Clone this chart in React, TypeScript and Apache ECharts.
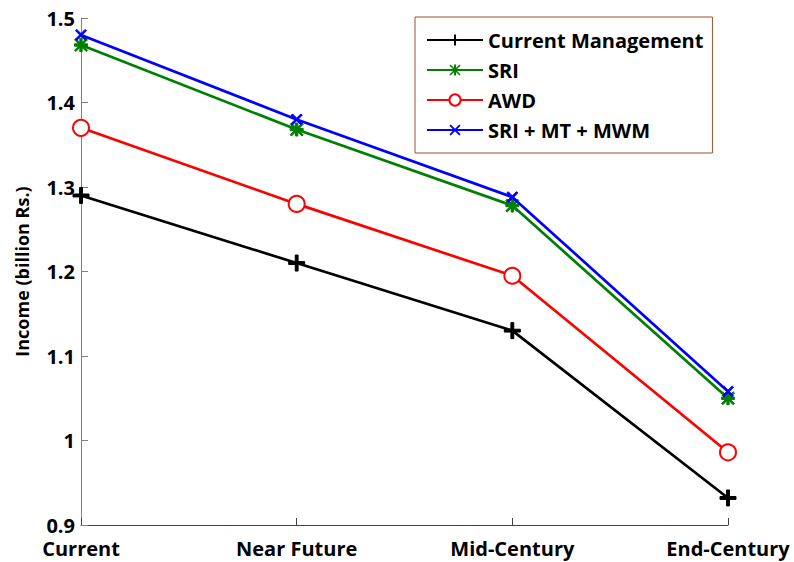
import React, { useEffect, useRef } from "react";
import * as echarts from "echarts";

const categories = ["Current", "Near Future", "Mid-Century", "End-Century"];
const currentManagement = [1.29, 1.21, 1.13, 0.932];
const sri = [1.468, 1.368, 1.278, 1.05];
const awd = [1.37, 1.28, 1.195, 0.986];
const sriMtMwm = [1.48, 1.38, 1.288, 1.058];
const yTicks = { min: 0.9, max: 1.5, interval: 0.1 };

const PLUS = "path://M4.1,0H5.9V4.1H10V5.9H5.9V10H4.1V5.9H0V4.1H4.1Z";
const STAR =
  "path://M0,4.1H10V5.9H0Z M4.1,0H5.9V10H4.1Z M1,0L10,9L9,10L0,1Z M9,0L10,1L1,10L0,9Z";
const CROSS = "path://M1.2,0L10,8.8L8.8,10L0,1.2Z M8.8,0L10,1.2L1.2,10L0,8.8Z";

const FONT = "Open Sans";

export default function App() {
  const ref = useRef<HTMLDivElement>(null);
  useEffect(() => {
    if (!ref.current) return;
    const chart = echarts.init(ref.current, null, { renderer: "svg" });
    const mk = (name: string, data: number[], color: string, symbol: string, size: number, extra: any = {}) => ({
      name,
      type: "line",
      data,
      symbol,
      symbolSize: size,
      showSymbol: true,
      lineStyle: { color, width: 2.7 },
      itemStyle: { color, borderColor: color, ...extra },
      z: 2,
    });
    chart.setOption({
      animation: false,
      backgroundColor: "#ffffff",
      grid: { left: 81, right: 66, top: 18, bottom: 37, containLabel: false },
      legend: {
        orient: "vertical",
        left: 415,
        top: 17,
        padding: [13, 9, 13, 11],
        itemWidth: 56,
        itemHeight: 14,
        itemGap: 10,
        borderColor: "#a0522d",
        borderWidth: 1,
        backgroundColor: "#ffffff",
        textStyle: { fontFamily: FONT, fontWeight: "bold", fontSize: 20, color: "#000", lineHeight: 20 },
        data: ["Current Management", "SRI", "AWD", "SRI + MT + MWM"],
      },
      xAxis: {
        type: "category",
        data: categories,
        boundaryGap: false,
        axisLine: { show: true, lineStyle: { color: "#404040", width: 1 } },
        axisTick: { show: true, inside: true, length: 7, alignWithLabel: true, lineStyle: { color: "#404040" } },
        axisLabel: { fontFamily: FONT, fontWeight: "bold", fontSize: 20, lineHeight: 20, color: "#000", margin: 13, interval: 0 },
        splitLine: { show: false },
      },
      yAxis: {
        type: "value",
        min: yTicks.min,
        max: yTicks.max,
        interval: yTicks.interval,
        name: "Income (billion Rs.)",
        nameLocation: "middle",
        nameGap: 50,
        nameTextStyle: { fontFamily: FONT, fontWeight: "bold", fontSize: 18, color: "#000" },
        axisLine: { show: true, lineStyle: { color: "#808080", width: 1 } },
        axisTick: { show: true, inside: true, length: 7, lineStyle: { color: "#808080" } },
        axisLabel: {
          fontFamily: FONT,
          fontWeight: "bold",
          fontSize: 20,
          lineHeight: 18,
          padding: [0, 0, 6, 0],
          color: "#000",
          margin: 6,
          formatter: (v: number) => String(parseFloat(v.toFixed(1))),
        },
        splitLine: { show: false },
      },
      series: [
        mk("Current Management", currentManagement, "#000000", PLUS, 16),
        mk("SRI", sri, "#008000", STAR, 13),
        mk("AWD", awd, "#ff0000", "emptyCircle", 16, { borderWidth: 2.5 }),
        mk("SRI + MT + MWM", sriMtMwm, "#0000ff", CROSS, 11),
      ],
    });
    return () => chart.dispose();
  }, []);
  return <div ref={ref} style={{ width: 794, height: 562, position: "absolute", left: 0, top: 0 }} />;
}
